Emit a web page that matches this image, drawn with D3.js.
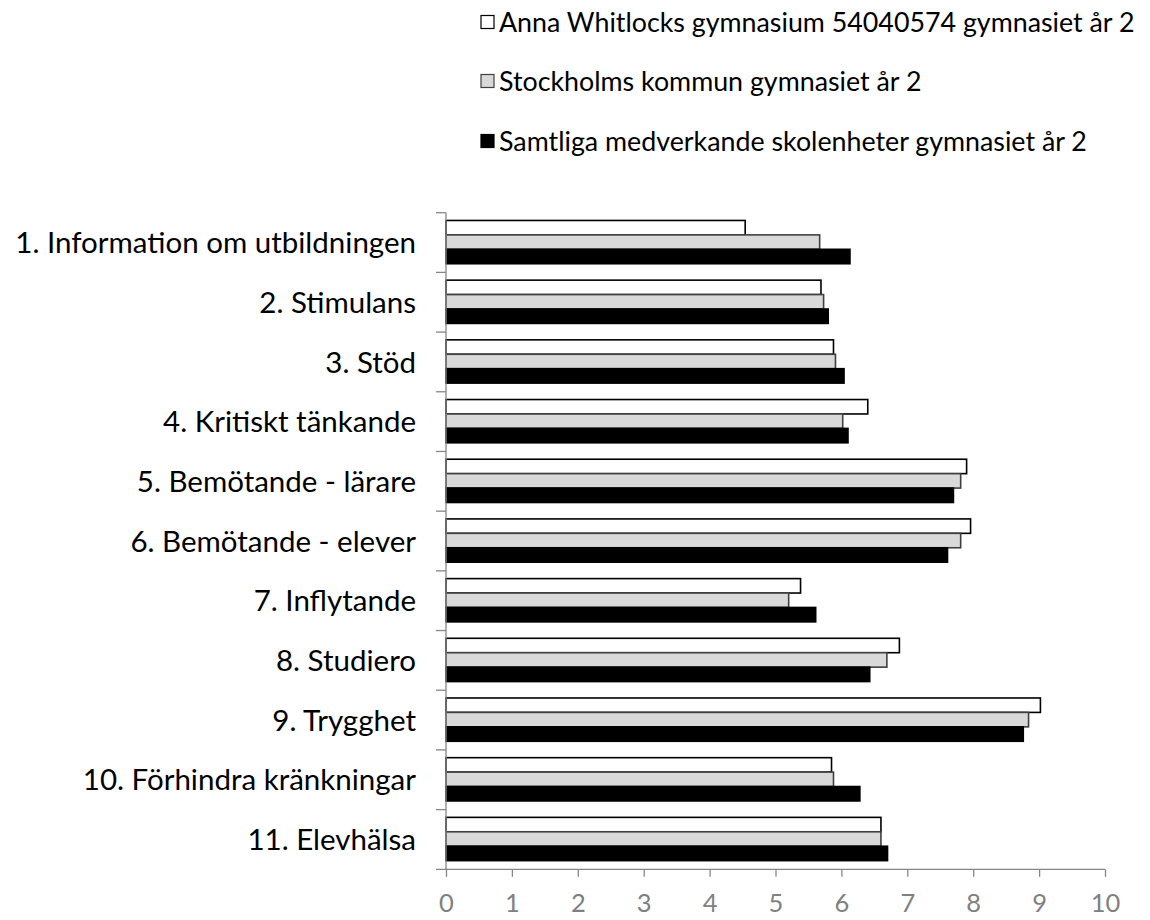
<!DOCTYPE html>
<html>
<head>
<meta charset="utf-8">
<script src="https://cdn.jsdelivr.net/npm/d3@7"></script>
<style>
  html, body { margin: 0; padding: 0; background: #fff; }
  svg { display: block; font-family: Lato, "Open Sans", sans-serif; }
</style>
</head>
<body>
<svg id="chart" width="1150" height="920"></svg>
<script>
const categories = [
  "1. Information om utbildningen",
  "2. Stimulans",
  "3. Stöd",
  "4. Kritiskt tänkande",
  "5. Bemötande - lärare",
  "6. Bemötande - elever",
  "7. Inflytande",
  "8. Studiero",
  "9. Trygghet",
  "10. Förhindra kränkningar",
  "11. Elevhälsa"
];
const seriesNames = [
  "Anna Whitlocks gymnasium 54040574 gymnasiet år 2",
  "Stockholms kommun gymnasiet år 2",
  "Samtliga medverkande skolenheter gymnasiet år 2"
];
const annaWhitlocks = [4.54, 5.69, 5.88, 6.40, 7.90, 7.96, 5.38, 6.88, 9.02, 5.85, 6.60];
const stockholm     = [5.67, 5.73, 5.91, 6.02, 7.81, 7.81, 5.20, 6.69, 8.84, 5.88, 6.60];
const samtliga      = [6.13, 5.80, 6.04, 6.10, 7.70, 7.61, 5.61, 6.43, 8.76, 6.28, 6.70];
const xTicks = [0, 1, 2, 3, 4, 5, 6, 7, 8, 9, 10];

const seriesValues = [annaWhitlocks, stockholm, samtliga];
const fills = ["#ffffff", "#d9d9d9", "#000000"];
const strokes = ["#000000", "#404040", "#000000"];

const svg = d3.select("#chart");

const x = d3.scaleLinear().domain([0, 10]).range([446, 1105]);
const y = d3.scaleBand().domain(categories).range([212.7, 869.3]).paddingInner(0).paddingOuter(0);
const ySub = d3.scaleBand().domain(d3.range(3)).range([0.13 * y.bandwidth(), 0.855 * y.bandwidth()]).padding(0);

// bars
categories.forEach((c, i) => {
  const g = svg.append("g").attr("transform", `translate(0,${y(c)})`);
  seriesValues.forEach((vals, s) => {
    g.append("rect")
      .attr("x", x(0))
      .attr("y", ySub(s))
      .attr("width", x(vals[i]) - x(0))
      .attr("height", ySub.bandwidth())
      .attr("fill", fills[s])
      .attr("stroke", strokes[s])
      .attr("stroke-width", 1.6);
  });
});

// y axis
const yAxisG = svg.append("g");
yAxisG.append("line")
  .attr("x1", x(0)).attr("x2", x(0))
  .attr("y1", y.range()[0]).attr("y2", y.range()[1])
  .attr("stroke", "#868686").attr("stroke-width", 1.3);
const yBoundaries = categories.map(c => y(c));
yAxisG.selectAll("line.tick").data(yBoundaries).enter().append("line")
  .attr("class", "tick")
  .attr("x1", x(0) - 10).attr("x2", x(0))
  .attr("y1", d => d).attr("y2", d => d)
  .attr("stroke", "#868686").attr("stroke-width", 1.3);
yAxisG.selectAll("text").data(categories).enter().append("text")
  .attr("x", 416)
  .attr("y", d => y(d) + y.bandwidth() / 2)
  .attr("dy", "0.36em")
  .attr("text-anchor", "end")
  .attr("font-size", 29.5)
  .attr("fill", "#000")
  .text(d => d);

// x axis
const xAxis = d3.axisBottom(x).tickValues(xTicks).tickSize(7.5).tickPadding(0).tickFormat(d3.format("d"));
const xAxisG = svg.append("g").attr("transform", `translate(0,${y.range()[1]})`).call(xAxis);
xAxisG.select(".domain").remove();
xAxisG.append("line")
  .attr("x1", x(0) - 10).attr("x2", x(10))
  .attr("y1", 0).attr("y2", 0)
  .attr("stroke", "#868686").attr("stroke-width", 1.3);
xAxisG.selectAll(".tick line").attr("stroke", "#868686").attr("stroke-width", 1.3);
xAxisG.selectAll(".tick text")
  .attr("y", 43)
  .attr("dy", null)
  .attr("font-size", 25.5)
  .attr("fill", "#808080")
  .attr("font-family", "Lato, sans-serif");

// legend
const legend = svg.append("g");
const legendY = [22, 81, 141];
seriesNames.forEach((name, s) => {
  legend.append("rect")
    .attr("x", 481).attr("y", legendY[s] - 6.5)
    .attr("width", 13).attr("height", 13)
    .attr("fill", fills[s])
    .attr("stroke", strokes[s])
    .attr("stroke-width", 1.2);
  legend.append("text")
    .attr("x", 499).attr("y", legendY[s])
    .attr("dy", "0.36em")
    .attr("font-size", 26.8)
    .attr("fill", "#000")
    .text(name);
});
</script>
</body>
</html>
